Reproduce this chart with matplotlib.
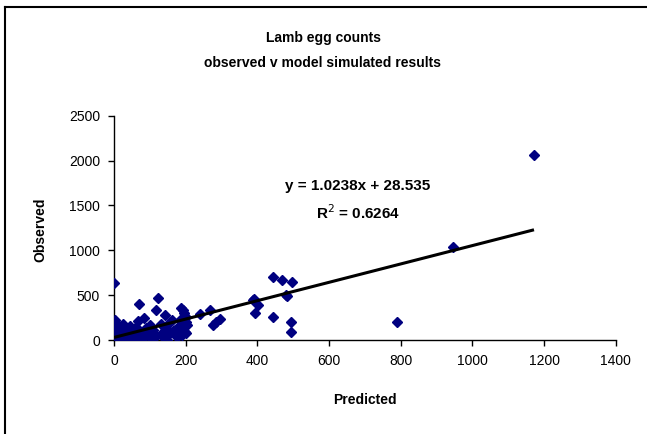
import matplotlib
matplotlib.use("Agg")
import matplotlib.pyplot as plt
from matplotlib.lines import Line2D

plt.rcParams['font.family'] = ['Liberation Sans', 'DejaVu Sans']

title_lines = ["Lamb egg counts", "observed v model simulated results"]
x_label = "Predicted"
y_label = "Observed"
x_ticks = [0, 200, 400, 600, 800, 1000, 1200, 1400]
y_ticks = [0, 500, 1000, 1500, 2000, 2500]

predicted = [0, 0, 0, 0, 0, 0, 0, 2, 3, 5, 8, 10, 12, 15, 18, 20, 25, 28, 30, 35,
             40, 45, 50, 55, 60, 62, 68, 71, 75, 80, 85, 88, 95, 100, 105, 110, 116,
             118, 124, 130, 135, 140, 142, 145, 147, 150, 155, 161, 165, 170, 173,
             175, 178, 184, 187, 190, 193, 193, 193, 195, 198, 200, 201, 203, 200,
             240, 268, 276, 286, 295, 389, 390, 393, 402, 444, 443, 468, 482, 480,
             498, 493, 493, 790, 945, 1172]
observed = [637, 5, 20, 50, 80, 110, 140, 170, 222, 190, 120, 60, 30, 150, 90, 10,
            180, 40, 120, 70, 20, 160, 100, 5, 50, 140, 211, 400, 90, 20, 241, 130,
            60, 170, 10, 110, 333, 40, 463, 180, 80, 20, 278, 130, 0, 60, 200, 222,
            100, 111, 81, 37, 150, 222, 352, 60, 333, 185, 74, 300, 92, 204, 81, 167,
            260, 289, 333, 167, 204, 230, 444, 452, 296, 389, 697, 259, 674, 489, 500,
            648, 204, 93, 200, 1040, 2060]

slope = 1.0238
intercept = 28.535
equation_text = "y = 1.0238x + 28.535"
r2_text = "R$^2$ = 0.6264"

W, H = 647, 434
fig = plt.figure(figsize=(W / 100, H / 100), dpi=100)
fig.patch.set_facecolor("white")

ax = fig.add_axes([114 / W, 1 - 340 / H, (615.7 - 114) / W, (340 - 115.7) / H])
ax.plot(predicted, observed, linestyle="none", marker="D", markersize=4.8,
        markerfacecolor="#000080", markeredgecolor="#000080", zorder=3)

x0, x1 = min(predicted), max(predicted)
ax.plot([x0, x1], [slope * x0 + intercept, slope * x1 + intercept],
        color="black", linewidth=2.2, zorder=4, solid_capstyle="butt")

ax.set_xlim(0, 1400)
ax.set_ylim(0, 2500)
ax.set_xticks(x_ticks)
ax.set_yticks(y_ticks)
ax.tick_params(direction="out", length=4, width=1, labelsize=10, colors="black", pad=6)
for side in ["top", "right"]:
    ax.spines[side].set_visible(False)
for side in ["left", "bottom"]:
    ax.spines[side].set_linewidth(1)

ax.text(358 / (615.7 - 114) * 0 + (358 - 114) / (615.7 - 114), (340 - 186) / (340 - 115.7),
        equation_text, transform=ax.transAxes, ha="center", va="center",
        fontsize=11, fontweight="bold")
ax.text((358 - 114) / (615.7 - 114), (340 - 213) / (340 - 115.7),
        r2_text, transform=ax.transAxes, ha="center", va="center",
        fontsize=11, fontweight="bold")

fig.text(323 / W, 1 - 38 / H, title_lines[0], ha="center", va="center",
         fontsize=10, fontweight="bold")
fig.text(323 / W, 1 - 63 / H, title_lines[1], ha="center", va="center",
         fontsize=10, fontweight="bold")
fig.text(365 / W, 1 - 400 / H, x_label, ha="center", va="center",
         fontsize=10, fontweight="bold")
fig.text(40 / W, 1 - 230 / H, y_label, ha="center", va="center", rotation=90,
         fontsize=10, fontweight="bold")

# chart area border (left and top visible)
fig.add_artist(Line2D([4.5 / W, 4.5 / W], [0, 1 - 7 / H], transform=fig.transFigure,
                      color="black", linewidth=1.5))
fig.add_artist(Line2D([4.5 / W, 1], [1 - 7 / H, 1 - 7 / H], transform=fig.transFigure,
                      color="black", linewidth=1.5))

fig.savefig("out.png", dpi=100, facecolor="white")
